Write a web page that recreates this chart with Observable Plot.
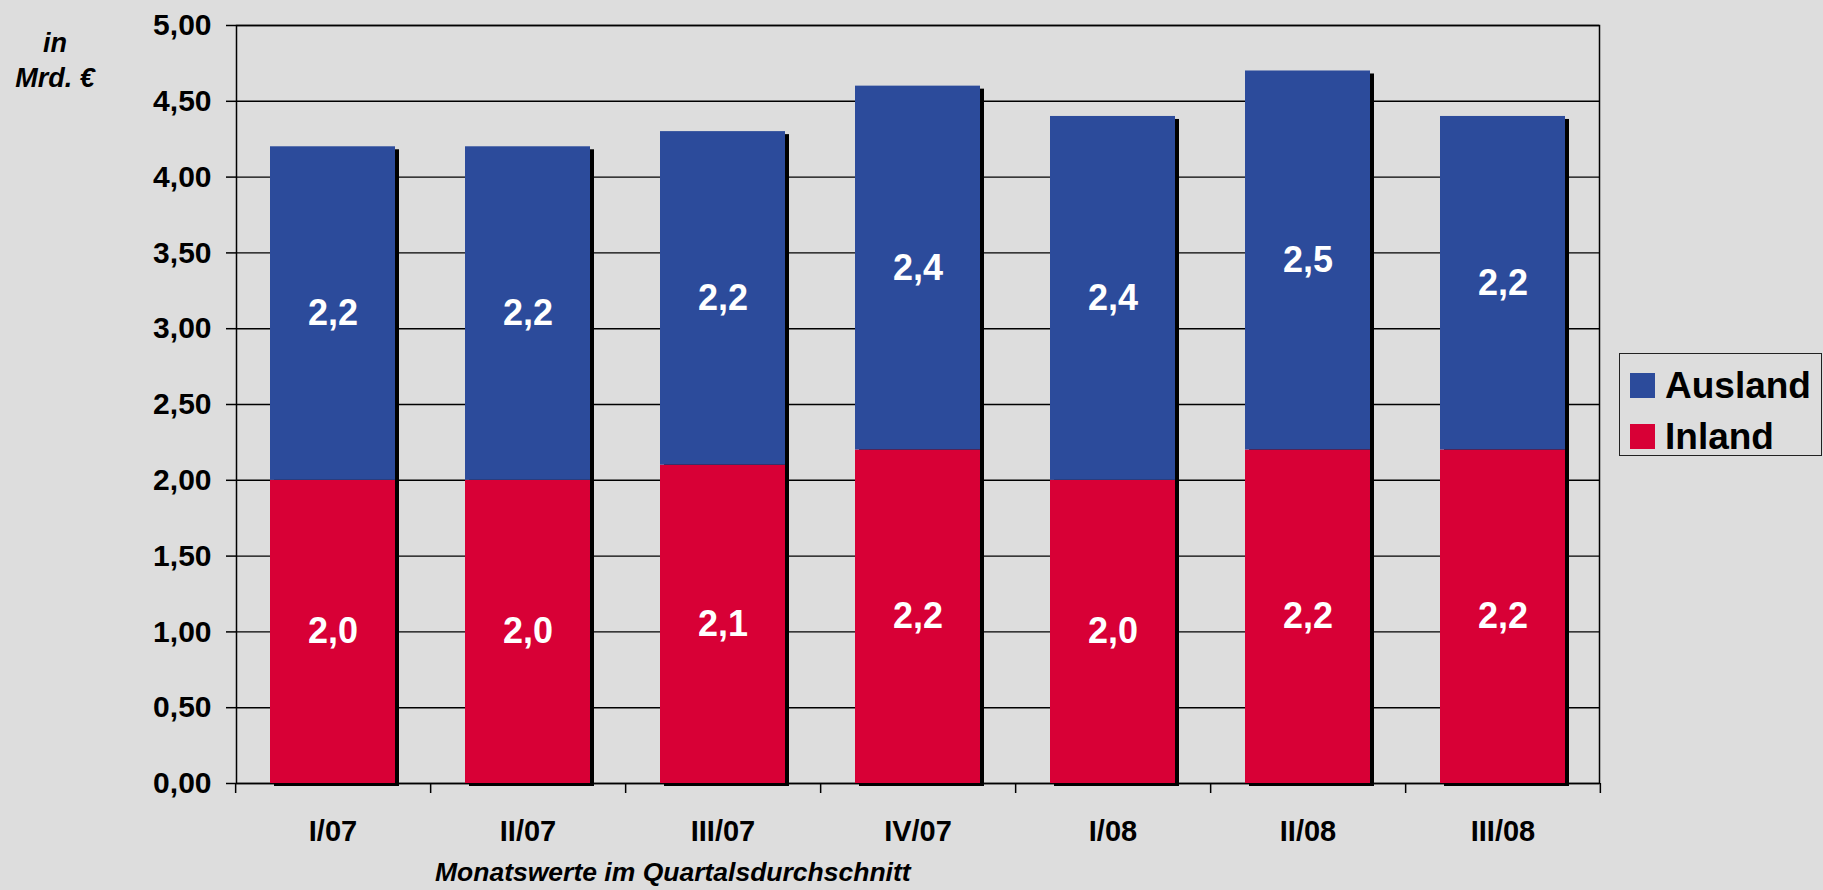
<!DOCTYPE html>
<html><head><meta charset="utf-8">
<script src="https://cdn.jsdelivr.net/npm/d3@7"></script>
<script src="https://cdn.jsdelivr.net/npm/@observablehq/plot@0.6"></script>
<style>
body{margin:0;background:#dddddd;font-family:"Liberation Sans",Arial,sans-serif;}
#wrap{position:relative;width:1823px;height:890px;overflow:hidden;background:#dddddd;}
#wrap svg{position:absolute;left:0;top:0;}
.unit{position:absolute;left:0;width:110px;text-align:center;font-weight:bold;font-style:italic;font-size:27px;line-height:27px;color:#000;}
.caption{position:absolute;left:435px;top:859px;font-weight:bold;font-style:italic;font-size:26.5px;line-height:26px;color:#000;white-space:nowrap;}
.legend{position:absolute;left:1619px;top:353px;width:201px;height:101px;border:1.5px solid #222;}
.legend .item{position:absolute;left:10px;height:37px;display:flex;align-items:center;font-weight:bold;font-size:37px;color:#000;white-space:nowrap;}
.legend .sw{width:25px;height:25px;margin-right:10px;}
</style></head><body><div id="wrap"></div>
<script>
const quarters = ["I/07","II/07","III/07","IV/07","I/08","II/08","III/08"];
const inland = [2.0,2.0,2.1,2.2,2.0,2.2,2.2];
const ausland = [2.2,2.2,2.2,2.4,2.4,2.5,2.2];
const seriesNames = ["Ausland","Inland"];
const seriesColors = ["#2c4b9b","#d80036"];
const yTicks = [0,0.5,1,1.5,2,2.5,3,3.5,4,4.5,5];
const yTickLabels = ["0,00","0,50","1,00","1,50","2,00","2,50","3,00","3,50","4,00","4,50","5,00"];
const unitLines = ["in","Mrd. €"];
const xTitle = "Monatswerte im Quartalsdurchschnitt";

const rows = quarters.flatMap((q,i)=>[
  {q, series:"Inland", value:inland[i]},
  {q, series:"Ausland", value:ausland[i]}
]);
const totals = quarters.map((q,i)=>({q, total: inland[i]+ausland[i]}));
const fmt1 = v => v.toFixed(1).replace(".", ",");

const W = 1823, H = 890, ML = 236, MR = 224, MT = 25, MB = 107;
const step = (W-ML-MR)/quarters.length;

const chart = Plot.plot({
  width: W, height: H,
  marginLeft: ML, marginRight: MR, marginTop: MT, marginBottom: MB,
  style: {background:"transparent", fontFamily:'"Liberation Sans",Arial,sans-serif', color:"#000", overflow:"visible"},
  x: {domain: quarters, paddingInner: 0.36, paddingOuter: 0.17, label: null, axis: null},
  y: {domain: [0,5], label: null, axis: null},
  color: {domain: seriesNames, range: seriesColors},
  marks: [
    Plot.ruleY(yTicks, {stroke:"#000", strokeWidth:1.4}),
    Plot.frame({stroke:"#000", strokeWidth:1.5}),
    Plot.barY(totals, {x:"q", y:"total", fill:"#000", dx:4, dy:3}),
    Plot.barY(rows, {x:"q", y:"value", fill:"series"}),
    Plot.text(rows, Plot.stackY({x:"q", y:"value", text: d=>fmt1(d.value), fill:"#fff", fontSize:36, fontWeight:"bold"})),
    Plot.ruleX(quarters, {x: d=>d, dx: -step/2, y1: 0, y2: 0, insetBottom: -10, stroke:"#000", strokeWidth:1.5}),
    Plot.ruleX(quarters.slice(-1), {x: d=>d, dx: step/2, y1: 0, y2: 0, insetBottom: -10, stroke:"#000", strokeWidth:1.5}),
    Plot.axisY({ticks: yTicks, tickFormat: d => yTickLabels[yTicks.indexOf(d)], tickSize: 10, tickPadding: 15, fontSize: 30, fontWeight: "bold", stroke:"#000", strokeWidth:1.5, label: null}),
    Plot.axisX({tickSize: 0, tickPadding: 37, fontSize: 29, fontWeight: "bold", label: null})
  ]
});
const wrap = document.getElementById("wrap");
wrap.appendChild(chart);

const u1 = document.createElement("div"); u1.className="unit"; u1.style.top="30px"; u1.textContent=unitLines[0]; wrap.appendChild(u1);
const u2 = document.createElement("div"); u2.className="unit"; u2.style.top="65px"; u2.textContent=unitLines[1]; wrap.appendChild(u2);
const cap = document.createElement("div"); cap.className="caption"; cap.textContent=xTitle; wrap.appendChild(cap);

const leg = document.createElement("div"); leg.className="legend";
seriesNames.forEach((n,i)=>{
  const it = document.createElement("div"); it.className="item"; it.style.top = (i===0? 13 : 64) + "px";
  const sw = document.createElement("div"); sw.className="sw"; sw.style.background = seriesColors[i];
  const t = document.createElement("span"); t.textContent = n;
  it.appendChild(sw); it.appendChild(t); leg.appendChild(it);
});
wrap.appendChild(leg);
</script></body></html>
